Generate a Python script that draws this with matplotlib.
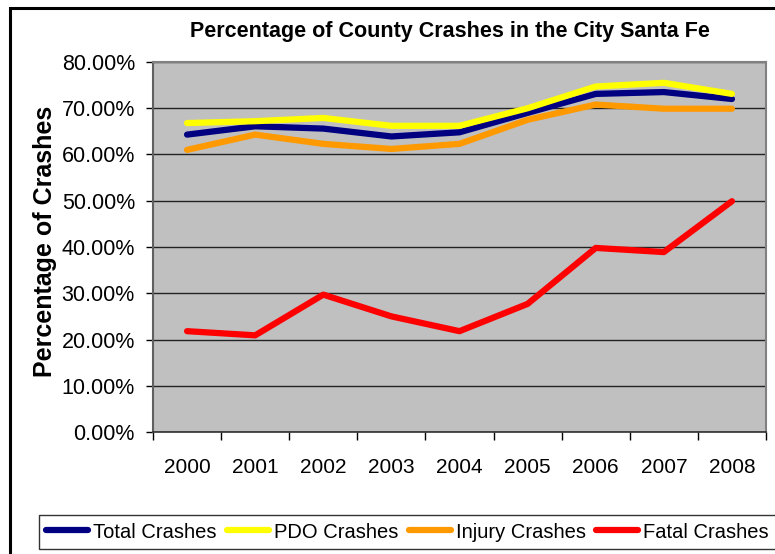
import matplotlib
matplotlib.use("Agg")
import matplotlib.pyplot as plt
from matplotlib.ticker import FixedLocator, FuncFormatter
from matplotlib.patches import Rectangle

years = ["2000", "2001", "2002", "2003", "2004", "2005", "2006", "2007", "2008"]
total = [64.3, 66.1, 65.6, 63.9, 64.8, 69.0, 73.1, 73.5, 72.0]
pdo = [66.8, 67.2, 67.9, 66.2, 66.2, 70.0, 74.7, 75.5, 73.1]
injury = [61.0, 64.3, 62.3, 61.2, 62.3, 67.5, 70.8, 69.9, 69.9]
fatal = [21.8, 20.9, 29.7, 25.0, 21.8, 27.7, 39.8, 38.9, 49.9]
series_names = ["Total Crashes", "PDO Crashes", "Injury Crashes", "Fatal Crashes"]
y_ticks = [0, 10, 20, 30, 40, 50, 60, 70, 80]

plt.rcParams["font.family"] = ["Liberation Sans", "DejaVu Sans"]

W, H = 775, 554
fig = plt.figure(figsize=(W / 100, H / 100), dpi=100)
fig.patch.set_facecolor("white")

# outer chart border
fig.add_artist(Rectangle((10 / W, -0.01), (W + 20) / W, 1 - 8 / H + 0.01,
                         transform=fig.transFigure, fill=False, edgecolor="black", lw=2.2))

ax = fig.add_axes([153 / W, 1 - 432 / H, (766 - 153) / W, (432 - 62) / H])
ax.set_facecolor("#C0C0C0")

x = list(range(len(years)))
colors = ["#000080", "#FFFF00", "#FF9900", "#FF0000"]
for vals, c, n in zip([total, pdo, injury, fatal], colors, series_names):
    ax.plot(x, vals, color=c, lw=4.5, label=n, solid_capstyle="round", solid_joinstyle="round")

ax.set_xlim(-0.5, len(years) - 0.5)
ax.set_ylim(0, 80)
ax.yaxis.set_major_locator(FixedLocator(y_ticks))
ax.yaxis.set_major_formatter(FuncFormatter(lambda v, p: f"{v:.2f}%"))
ax.grid(axis="y", color="#222222", lw=1)
ax.set_axisbelow(True)

ax.xaxis.set_major_locator(FixedLocator([i - 0.5 for i in range(len(years) + 1)]))
ax.xaxis.set_major_formatter(FuncFormatter(lambda v, p: ""))
ax.xaxis.set_minor_locator(FixedLocator(x))
ax.set_xticklabels(years, minor=True)
ax.tick_params(axis="x", which="major", length=6, width=1, color="black", direction="out")
ax.tick_params(axis="x", which="minor", length=0, pad=19, labelsize=15)
ax.tick_params(axis="y", length=5, width=1, color="black", pad=8, labelsize=15.5)

for s in ["top", "right"]:
    ax.spines[s].set_color("#808080")
    ax.spines[s].set_linewidth(1.5)
ax.spines["left"].set_color("#606060")
ax.spines["left"].set_linewidth(1.5)
ax.spines["bottom"].set_color("#303030")
ax.spines["bottom"].set_linewidth(1.2)

fig.text(450 / W, 1 - 32 / H, "Percentage of County Crashes in the City Santa Fe",
         ha="center", va="center", fontsize=15.5, fontweight="bold")
fig.text(45 / W, 1 - 241 / H, "Percentage of Crashes", rotation=90,
         ha="center", va="center", fontsize=18, fontweight="bold")

leg = fig.legend(loc="center", bbox_to_anchor=((42 + 773) / 2 / W, 1 - 532 / H),
                 ncol=4, frameon=True, fancybox=False, fontsize=14.5, handlelength=2.1,
                 handletextpad=0.25, columnspacing=0.5, borderpad=0.35, borderaxespad=0)
leg.get_frame().set_edgecolor("black")
leg.get_frame().set_linewidth(1)

fig.savefig("out.png", dpi=100, facecolor="white")
